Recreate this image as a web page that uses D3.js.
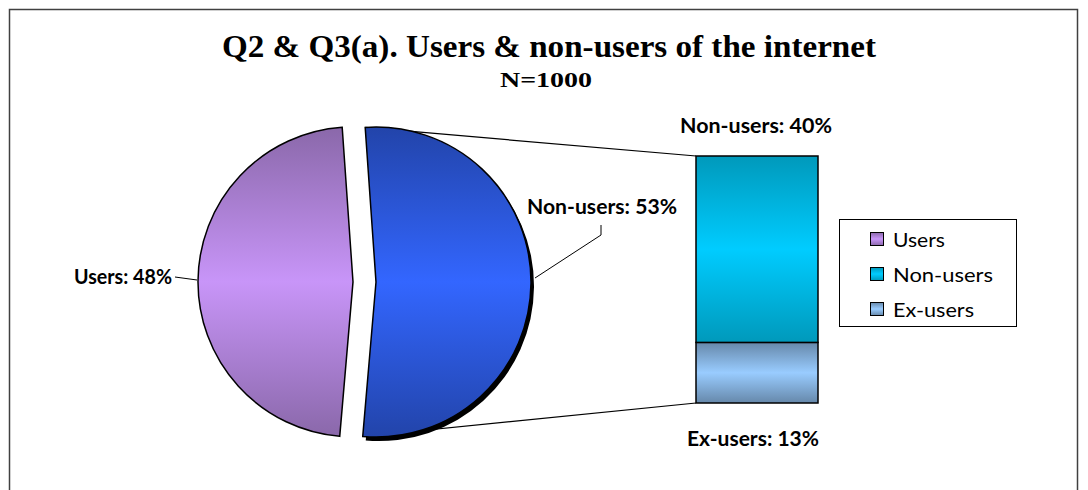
<!DOCTYPE html>
<html><head><meta charset="utf-8">
<script src="https://cdn.jsdelivr.net/npm/d3@7"></script>
<style>body{margin:0;background:#fff}svg{display:block}</style></head>
<body><svg id="c" width="1088" height="490"></svg>
<script>
const pieCategories = ["Non-users", "Users"];
const pieValues = [53, 48];
const pieLabels = ["Non-users: 53%", "Users: 48%"];
const barCategories = ["Ex-users", "Non-users"];
const barValues = [13, 40];
const barLabels = ["Ex-users: 13%", "Non-users: 40%"];
const legendLabels = ["Users", "Non-users", "Ex-users"];
const titleText = "Q2 & Q3(a). Users & non-users of the internet";
const subtitleText = "N=1000";

const svg = d3.select("#c");
const defs = svg.append("defs");
const grads = {
  "Users": ["#8a68aa", "#c895f8"],
  "NonPie": ["#2244aa", "#3366ff"],
  "Non-users": ["#0099bb", "#00ccff"],
  "Ex-users": ["#6688aa", "#99ccff"]
};
Object.entries(grads).forEach(([k, c]) => {
  const g = defs.append("linearGradient").attr("id", "g-" + k.replace(/[^a-z]/gi, ""))
    .attr("x1", 0).attr("y1", 0).attr("x2", 0).attr("y2", 1);
  g.append("stop").attr("offset", 0).attr("stop-color", c[0]);
  g.append("stop").attr("offset", 0.5).attr("stop-color", c[1]);
  g.append("stop").attr("offset", 1).attr("stop-color", c[0]);
});
const gid = k => "url(#g-" + k.replace(/[^a-z]/gi, "") + ")";

// frame
svg.append("rect").attr("x", 9.5).attr("y", 9.5).attr("width", 1068).attr("height", 600)
  .attr("fill", "#fff").attr("stroke", "#404040").attr("stroke-width", 1.5);

// title
svg.append("text").attr("x", 549).attr("y", 57).attr("text-anchor", "middle")
  .attr("font-family", "Liberation Serif, serif").attr("font-weight", "bold").attr("font-size", 31)
  .attr("textLength", 654).attr("lengthAdjust", "spacingAndGlyphs").text(titleText);
svg.append("text").attr("x", 546).attr("y", 87).attr("text-anchor", "middle")
  .attr("font-family", "Liberation Serif, serif").attr("font-weight", "bold").attr("font-size", 21)
  .attr("textLength", 92).attr("lengthAdjust", "spacingAndGlyphs").text(subtitleText);

// pie
const cx = 364.5, cy = 282, R = 155, explode = 11.5;
const a0 = -4 * Math.PI / 180;
const pie = d3.pie().sort(null).value(d => d).startAngle(a0).endAngle(a0 + 2 * Math.PI);
const arcs = pie(pieValues);
const arc = d3.arc().innerRadius(0).outerRadius(R);
const off = d => {
  const m = (d.startAngle + d.endAngle) / 2;
  return [explode * Math.sin(m), -explode * Math.cos(m)];
};
const pt = (d, a) => {
  const o = off(d);
  return [cx + o[0] + R * Math.sin(a), cy + o[1] - R * Math.cos(a)];
};

// bar
const bx0 = 696, bx1 = 818;
const total = d3.sum(barValues);
const y = d3.scaleLinear().domain([0, total]).range([403, 156]);

// series lines
const nu = arcs[0];
const pTop = pt(nu, nu.startAngle), pBot = pt(nu, nu.endAngle);
svg.append("line").attr("x1", pTop[0]).attr("y1", pTop[1]).attr("x2", bx0).attr("y2", y(total))
  .attr("stroke", "#000").attr("stroke-width", 1.2);
svg.append("line").attr("x1", pBot[0]).attr("y1", pBot[1]).attr("x2", bx0).attr("y2", y(0))
  .attr("stroke", "#000").attr("stroke-width", 1.2);

const pg = svg.append("g");
arcs.forEach((d, i) => {
  const o = off(d);
  const g = pg.append("g").attr("transform", `translate(${cx + o[0]},${cy + o[1]})`);
  if (pieCategories[i] === "Non-users") {
    g.append("path").attr("d", arc(d)).attr("fill", "#000").attr("transform", "translate(3,4)");
  }
  g.append("path").attr("d", arc(d))
    .attr("fill", pieCategories[i] === "Users" ? gid("Users") : gid("NonPie"))
    .attr("stroke", "#000").attr("stroke-width", 1.5);
});

let acc = 0;
barValues.forEach((v, i) => {
  svg.append("rect").attr("x", bx0).attr("width", bx1 - bx0)
    .attr("y", y(acc + v)).attr("height", y(acc) - y(acc + v))
    .attr("fill", gid(barCategories[i])).attr("stroke", "#000").attr("stroke-width", 1.5);
  acc += v;
});

// labels
const lab = (x, yy, t, w, anchor) => svg.append("text").attr("x", x).attr("y", yy)
  .attr("text-anchor", anchor || "start").attr("font-family", "Lato, sans-serif").attr("font-weight", "bold")
  .attr("font-size", 20).attr("textLength", w).attr("lengthAdjust", "spacingAndGlyphs").attr("fill", "#000").text(t);
lab(172, 284, pieLabels[1], 98, "end");
lab(527, 214, pieLabels[0], 150);
lab(756, 133, barLabels[1], 152, "middle");
lab(753, 446, barLabels[0], 132, "middle");

// leader lines
svg.append("polyline").attr("points", "175,277 197,280").attr("fill", "none").attr("stroke", "#000").attr("stroke-width", 1);
svg.append("polyline").attr("points", "601,225 601,235 535,278").attr("fill", "none").attr("stroke", "#000").attr("stroke-width", 1);

// legend
svg.append("rect").attr("x", 839.5).attr("y", 219.5).attr("width", 177).attr("height", 107)
  .attr("fill", "#fff").attr("stroke", "#000").attr("stroke-width", 1);
const legKeys = ["Users", "Non-users", "Ex-users"];
const legW = [52, 100, 81];
legendLabels.forEach((t, i) => {
  const yy = 232 + i * 35;
  svg.append("rect").attr("x", 870.5).attr("y", yy + 0.5).attr("width", 13).attr("height", 13)
    .attr("fill", gid(legKeys[i])).attr("stroke", "#000").attr("stroke-width", 1);
  svg.append("text").attr("x", 893).attr("y", yy + 15).attr("font-family", "Lato, sans-serif")
    .attr("font-size", 20).attr("textLength", legW[i]).attr("lengthAdjust", "spacingAndGlyphs").text(t);
});
</script></body></html>
